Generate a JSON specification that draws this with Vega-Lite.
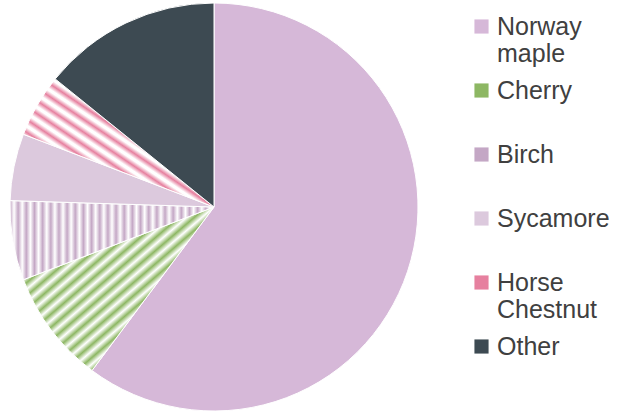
{
  "$schema": "https://vega.github.io/schema/vega-lite/v6.json",
  "width": 428,
  "height": 414,
  "padding": 0,
  "autosize": {"type": "pad"},
  "background": "white",
  "data": {
    "values": [
      {"species": "Norway maple", "share": 60.2, "idx": 1},
      {"species": "Cherry", "share": 9.0, "idx": 2},
      {"species": "Birch", "share": 6.3, "idx": 3},
      {"species": "Sycamore", "share": 5.3, "idx": 4},
      {"species": "Horse Chestnut", "share": 5.0, "idx": 5},
      {"species": "Other", "share": 14.2, "idx": 6}
    ]
  },
  "mark": {"type": "arc", "outerRadius": 204, "stroke": "white", "strokeWidth": 1},
  "encoding": {
    "theta": {"field": "share", "type": "quantitative", "stack": true},
    "order": {"field": "idx", "type": "quantitative"},
    "fill": {
      "condition": [
        {"test": "datum.species == 'Cherry'", "value": {"gradient": "linear", "x1": 0, "y1": 0, "x2": 1, "y2": 1, "stops": [
            {"offset": 0, "color": "#8DB763"}, {"offset": 0.02, "color": "#ffffff"},
            {"offset": 0.04, "color": "#8DB763"}, {"offset": 0.06, "color": "#ffffff"},
            {"offset": 0.08, "color": "#8DB763"}, {"offset": 0.10, "color": "#ffffff"},
            {"offset": 0.12, "color": "#8DB763"}, {"offset": 0.14, "color": "#ffffff"},
            {"offset": 0.16, "color": "#8DB763"}, {"offset": 0.18, "color": "#ffffff"},
            {"offset": 0.20, "color": "#8DB763"}, {"offset": 0.22, "color": "#ffffff"},
            {"offset": 0.24, "color": "#8DB763"}, {"offset": 0.26, "color": "#ffffff"},
            {"offset": 0.28, "color": "#8DB763"}, {"offset": 0.30, "color": "#ffffff"},
            {"offset": 0.32, "color": "#8DB763"}, {"offset": 0.34, "color": "#ffffff"},
            {"offset": 0.36, "color": "#8DB763"}, {"offset": 0.38, "color": "#ffffff"},
            {"offset": 0.40, "color": "#8DB763"}, {"offset": 0.42, "color": "#ffffff"},
            {"offset": 0.44, "color": "#8DB763"}, {"offset": 0.46, "color": "#ffffff"},
            {"offset": 0.48, "color": "#8DB763"}, {"offset": 0.50, "color": "#ffffff"},
            {"offset": 0.52, "color": "#8DB763"}, {"offset": 0.54, "color": "#ffffff"},
            {"offset": 0.56, "color": "#8DB763"}, {"offset": 0.58, "color": "#ffffff"},
            {"offset": 0.60, "color": "#8DB763"}, {"offset": 0.62, "color": "#ffffff"},
            {"offset": 0.64, "color": "#8DB763"}, {"offset": 0.66, "color": "#ffffff"},
            {"offset": 0.68, "color": "#8DB763"}, {"offset": 0.70, "color": "#ffffff"},
            {"offset": 0.72, "color": "#8DB763"}, {"offset": 0.74, "color": "#ffffff"},
            {"offset": 0.76, "color": "#8DB763"}, {"offset": 0.78, "color": "#ffffff"},
            {"offset": 0.80, "color": "#8DB763"}, {"offset": 0.82, "color": "#ffffff"},
            {"offset": 0.84, "color": "#8DB763"}, {"offset": 0.86, "color": "#ffffff"},
            {"offset": 0.88, "color": "#8DB763"}, {"offset": 0.90, "color": "#ffffff"},
            {"offset": 0.92, "color": "#8DB763"}, {"offset": 0.94, "color": "#ffffff"},
            {"offset": 0.96, "color": "#8DB763"}, {"offset": 0.98, "color": "#ffffff"},
            {"offset": 1, "color": "#8DB763"}
          ]}},
        {"test": "datum.species == 'Birch'", "value": {"gradient": "linear", "x1": 0, "y1": 0, "x2": 1, "y2": 0, "stops": [
            {"offset": 0, "color": "#C4A7C5"}, {"offset": 0.02, "color": "#ffffff"},
            {"offset": 0.04, "color": "#C4A7C5"}, {"offset": 0.06, "color": "#ffffff"},
            {"offset": 0.08, "color": "#C4A7C5"}, {"offset": 0.10, "color": "#ffffff"},
            {"offset": 0.12, "color": "#C4A7C5"}, {"offset": 0.14, "color": "#ffffff"},
            {"offset": 0.16, "color": "#C4A7C5"}, {"offset": 0.18, "color": "#ffffff"},
            {"offset": 0.20, "color": "#C4A7C5"}, {"offset": 0.22, "color": "#ffffff"},
            {"offset": 0.24, "color": "#C4A7C5"}, {"offset": 0.26, "color": "#ffffff"},
            {"offset": 0.28, "color": "#C4A7C5"}, {"offset": 0.30, "color": "#ffffff"},
            {"offset": 0.32, "color": "#C4A7C5"}, {"offset": 0.34, "color": "#ffffff"},
            {"offset": 0.36, "color": "#C4A7C5"}, {"offset": 0.38, "color": "#ffffff"},
            {"offset": 0.40, "color": "#C4A7C5"}, {"offset": 0.42, "color": "#ffffff"},
            {"offset": 0.44, "color": "#C4A7C5"}, {"offset": 0.46, "color": "#ffffff"},
            {"offset": 0.48, "color": "#C4A7C5"}, {"offset": 0.50, "color": "#ffffff"},
            {"offset": 0.52, "color": "#C4A7C5"}, {"offset": 0.54, "color": "#ffffff"},
            {"offset": 0.56, "color": "#C4A7C5"}, {"offset": 0.58, "color": "#ffffff"},
            {"offset": 0.60, "color": "#C4A7C5"}, {"offset": 0.62, "color": "#ffffff"},
            {"offset": 0.64, "color": "#C4A7C5"}, {"offset": 0.66, "color": "#ffffff"},
            {"offset": 0.68, "color": "#C4A7C5"}, {"offset": 0.70, "color": "#ffffff"},
            {"offset": 0.72, "color": "#C4A7C5"}, {"offset": 0.74, "color": "#ffffff"},
            {"offset": 0.76, "color": "#C4A7C5"}, {"offset": 0.78, "color": "#ffffff"},
            {"offset": 0.80, "color": "#C4A7C5"}, {"offset": 0.82, "color": "#ffffff"},
            {"offset": 0.84, "color": "#C4A7C5"}, {"offset": 0.86, "color": "#ffffff"},
            {"offset": 0.88, "color": "#C4A7C5"}, {"offset": 0.90, "color": "#ffffff"},
            {"offset": 0.92, "color": "#C4A7C5"}, {"offset": 0.94, "color": "#ffffff"},
            {"offset": 0.96, "color": "#C4A7C5"}, {"offset": 0.98, "color": "#ffffff"},
            {"offset": 1, "color": "#C4A7C5"}
          ]}},
        {"test": "datum.species == 'Horse Chestnut'", "value": {"gradient": "linear", "x1": 0, "y1": 1, "x2": 1, "y2": 0, "stops": [
            {"offset": 0, "color": "#E6809F"}, {"offset": 0.02, "color": "#ffffff"}, {"offset": 0.03, "color": "#ffffff"},
            {"offset": 0.05, "color": "#E6809F"}, {"offset": 0.07, "color": "#ffffff"}, {"offset": 0.08, "color": "#ffffff"},
            {"offset": 0.10, "color": "#E6809F"}, {"offset": 0.12, "color": "#ffffff"}, {"offset": 0.13, "color": "#ffffff"},
            {"offset": 0.15, "color": "#E6809F"}, {"offset": 0.17, "color": "#ffffff"}, {"offset": 0.18, "color": "#ffffff"},
            {"offset": 0.20, "color": "#E6809F"}, {"offset": 0.22, "color": "#ffffff"}, {"offset": 0.23, "color": "#ffffff"},
            {"offset": 0.25, "color": "#E6809F"}, {"offset": 0.27, "color": "#ffffff"}, {"offset": 0.28, "color": "#ffffff"},
            {"offset": 0.30, "color": "#E6809F"}, {"offset": 0.32, "color": "#ffffff"}, {"offset": 0.33, "color": "#ffffff"},
            {"offset": 0.35, "color": "#E6809F"}, {"offset": 0.37, "color": "#ffffff"}, {"offset": 0.38, "color": "#ffffff"},
            {"offset": 0.40, "color": "#E6809F"}, {"offset": 0.42, "color": "#ffffff"}, {"offset": 0.43, "color": "#ffffff"},
            {"offset": 0.45, "color": "#E6809F"}, {"offset": 0.47, "color": "#ffffff"}, {"offset": 0.48, "color": "#ffffff"},
            {"offset": 0.50, "color": "#E6809F"}, {"offset": 0.52, "color": "#ffffff"}, {"offset": 0.53, "color": "#ffffff"},
            {"offset": 0.55, "color": "#E6809F"}, {"offset": 0.57, "color": "#ffffff"}, {"offset": 0.58, "color": "#ffffff"},
            {"offset": 0.60, "color": "#E6809F"}, {"offset": 0.62, "color": "#ffffff"}, {"offset": 0.63, "color": "#ffffff"},
            {"offset": 0.65, "color": "#E6809F"}, {"offset": 0.67, "color": "#ffffff"}, {"offset": 0.68, "color": "#ffffff"},
            {"offset": 0.70, "color": "#E6809F"}, {"offset": 0.72, "color": "#ffffff"}, {"offset": 0.73, "color": "#ffffff"},
            {"offset": 0.75, "color": "#E6809F"}, {"offset": 0.77, "color": "#ffffff"}, {"offset": 0.78, "color": "#ffffff"},
            {"offset": 0.80, "color": "#E6809F"}, {"offset": 0.82, "color": "#ffffff"}, {"offset": 0.83, "color": "#ffffff"},
            {"offset": 0.85, "color": "#E6809F"}, {"offset": 0.87, "color": "#ffffff"}, {"offset": 0.88, "color": "#ffffff"},
            {"offset": 0.90, "color": "#E6809F"}, {"offset": 0.92, "color": "#ffffff"}, {"offset": 0.93, "color": "#ffffff"},
            {"offset": 0.95, "color": "#E6809F"}, {"offset": 0.97, "color": "#ffffff"}, {"offset": 0.98, "color": "#ffffff"},
            {"offset": 1, "color": "#E6809F"}
          ]}}
      ],
      "field": "species",
      "type": "nominal",
      "sort": null,
      "scale": {
        "domain": ["Norway maple", "Cherry", "Birch", "Sycamore", "Horse Chestnut", "Other"],
        "range": ["#D6B8D8", "#8DB763", "#C4A7C5", "#DCC9DD", "#E6809F", "#3D4A52"]
      },
      "legend": {
        "title": null,
        "orient": "none",
        "legendX": 469,
        "legendY": 14,
        "gridAlign": "all",
        "symbolType": "square",
        "symbolSize": 200,
        "symbolStrokeWidth": 0,
        "labelFont": "Liberation Sans",
        "labelFontSize": 25,
        "labelColor": "#404040",
        "labelLimit": 200,
        "labelOffset": 3,
        "rowPadding": 11,
        "labelExpr": "datum.label == 'Norway maple' ? ['Norway', 'maple'] : datum.label == 'Horse Chestnut' ? ['Horse', 'Chestnut'] : datum.label",
        "encode": {"labels": {"update": {"lineHeight": {"value": 24}, "dy": {"value": -5}}}}
      }
    }
  },
  "config": {"view": {"stroke": null}}
}
